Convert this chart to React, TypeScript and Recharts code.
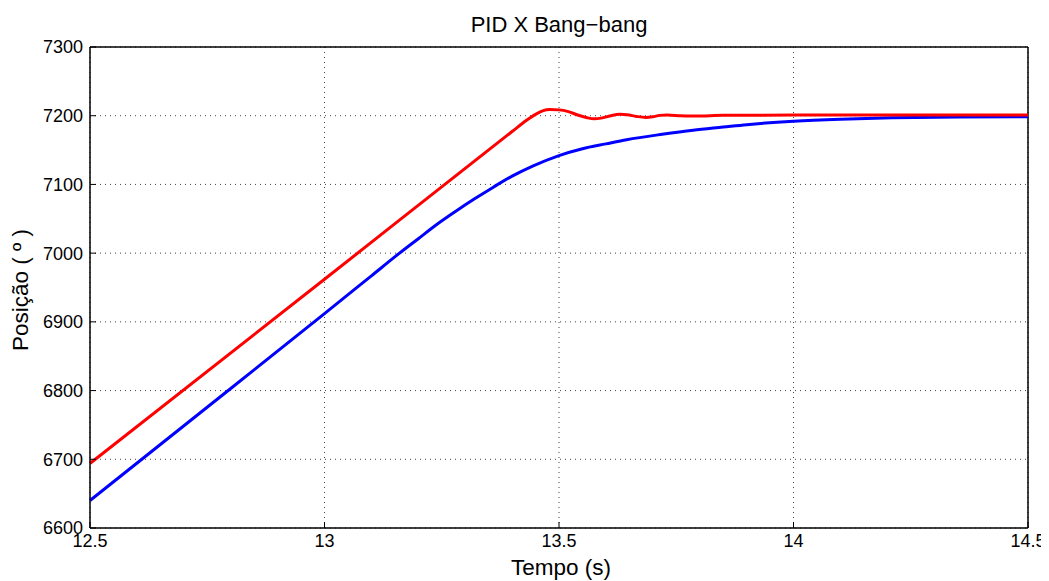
import React from "react"
import { LineChart, Line, XAxis, YAxis, CartesianGrid, ReferenceLine } from "recharts"

// time (s) and position (º)
const pidTime = [12.5, 12.8, 13.0, 13.1, 13.16, 13.2, 13.24, 13.28, 13.32, 13.36, 13.4, 13.445, 13.5, 13.55, 13.6, 13.644, 13.72, 13.786, 13.85, 13.9, 14.0, 14.1, 14.21, 14.35, 14.5]
const pidPos = [6640, 6803, 6912, 6967, 7000, 7021, 7042, 7061, 7079, 7096, 7112, 7127, 7142, 7152, 7159, 7165, 7173, 7179, 7183.5, 7187, 7192, 7195, 7197, 7198, 7198.5]

const bangTime = [12.5, 13.0, 13.4, 13.43, 13.45, 13.465, 13.48, 13.5, 13.52, 13.54, 13.56, 13.575, 13.59, 13.61, 13.63, 13.645, 13.665, 13.685, 13.7, 13.715, 13.73, 13.76, 13.79, 13.85, 14.0, 14.5]
const bangPos = [6694, 6962, 7177, 7193, 7202, 7207, 7209, 7208.5, 7206, 7201, 7197, 7195.5, 7196.5, 7200, 7202, 7201.5, 7199, 7197.5, 7198.5, 7200.5, 7201, 7200, 7199.5, 7200.5, 7201, 7201]

const xTicks = [12.5, 13, 13.5, 14, 14.5]
const yTicks = [6600, 6700, 6800, 6900, 7000, 7100, 7200, 7300]

const pidData = pidTime.map((t, i) => ({ t, v: pidPos[i] }))
const bangData = bangTime.map((t, i) => ({ t, v: bangPos[i] }))

const font = "'Liberation Sans', Arial, Helvetica, sans-serif"
const W = 1041
const H = 573

export default function App() {
  const tick = { fill: "#000", fontSize: 18, fontFamily: font }
  return (
    <div style={{ position: "relative", width: W, height: H, background: "#fff" }}>
      <LineChart width={W} height={H} margin={{ top: 39, right: 21, left: 12, bottom: 23 }}>
        <CartesianGrid stroke="#444" strokeDasharray="1 4" />
        <XAxis
          dataKey="t"
          type="number"
          domain={[12.5, 14.5]}
          ticks={xTicks}
          allowDuplicatedCategory={false}
          height={30}
          tick={tick}
          tickSize={-6}
          tickMargin={12}
          tickLine={{ stroke: "#000" }}
          axisLine={{ stroke: "#000", strokeWidth: 1.5 }}
        />
        <YAxis
          type="number"
          domain={[6600, 7300]}
          ticks={yTicks}
          width={70}
          tick={tick}
          tickSize={-6}
          tickMargin={13}
          tickLine={{ stroke: "#000" }}
          axisLine={{ stroke: "#000", strokeWidth: 1.5 }}
        />
        <ReferenceLine y={7300} stroke="#000" strokeWidth={1.5} />
        <ReferenceLine x={14.5} stroke="#000" strokeWidth={1.5} />
        <Line data={pidData} dataKey="v" type="monotone" stroke="#0000ff" strokeWidth={3} dot={false} isAnimationActive={false} />
        <Line data={bangData} dataKey="v" type="monotone" stroke="#ff0000" strokeWidth={3} dot={false} isAnimationActive={false} />
      </LineChart>
      <svg width={W} height={H} style={{ position: "absolute", left: 0, top: 0, pointerEvents: "none" }}>
        <text x={551} y={24} textAnchor="middle" fontSize={22} fontFamily={font} fill="#000">
          PID X Bang−bang
        </text>
        <text x={553} y={567} textAnchor="middle" fontSize={22.5} fontFamily={font} fill="#000">
          Tempo (s)
        </text>
        <text x={0} y={0} transform="translate(20,282) rotate(-90)" textAnchor="middle" fontSize={22.5} fontFamily={font} fill="#000">
          Posição ( º )
        </text>
      </svg>
    </div>
  )
}
